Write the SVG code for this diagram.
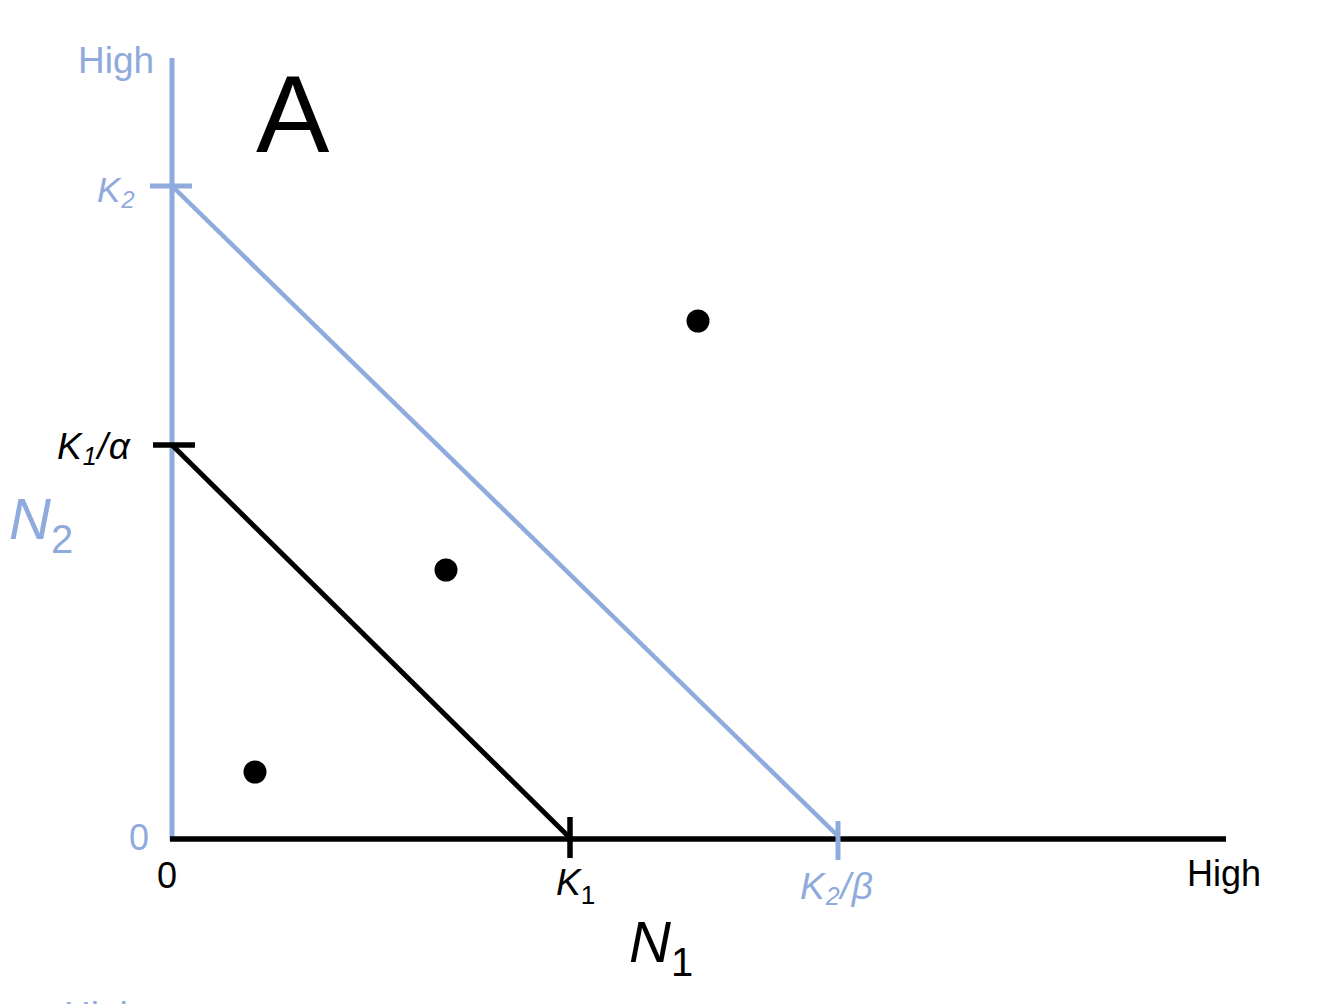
<svg xmlns="http://www.w3.org/2000/svg" width="1324" height="1004" viewBox="0 0 1324 1004">
<style>
.b{stroke:#8FAADC;fill:none}
.k{stroke:#000;fill:none}
.tb{fill:#8FAADC;font-family:"Liberation Sans",Arial,sans-serif}
.tk{fill:#000;font-family:"Liberation Sans",Arial,sans-serif}
.i{font-style:italic}
</style>
<rect width="1324" height="1004" fill="#fff"/>
<g id="axes">
<line class="b" x1="172" y1="58" x2="172" y2="841" stroke-width="5"/>
<line class="k" x1="170" y1="839" x2="1226" y2="839" stroke-width="5.5"/>
</g>
<g id="connectors">
<line class="b" x1="172" y1="186" x2="838" y2="836" stroke-width="4.5"/>
<line class="k" x1="172" y1="445" x2="568" y2="836" stroke-width="5"/>
</g>
<g id="ticks">
<line class="b" x1="150" y1="186" x2="192" y2="186" stroke-width="5"/>
<line class="b" x1="838" y1="821" x2="838" y2="860" stroke-width="5"/>
<line class="k" x1="153" y1="445" x2="195" y2="445" stroke-width="5.5"/>
<line class="k" x1="570" y1="817" x2="570" y2="858" stroke-width="5.5"/>
</g>
<g id="points">
<circle cx="698" cy="321" r="11.5"/>
<circle cx="446" cy="570" r="11.5"/>
<circle cx="255" cy="772" r="11.5"/>
</g>
<g id="labels">
<text class="tb" x="78" y="73" font-size="37">High</text>
<text class="tk" x="256" y="152" font-size="110">A</text>
<text class="tb i" x="97" y="202" font-size="35" letter-spacing="1">K<tspan font-size="24" dy="6">2</tspan></text>
<text class="tk i" x="57" y="459" font-size="37" letter-spacing="1">K<tspan font-size="25" dy="6">1</tspan><tspan dy="-6">/α</tspan></text>
<text class="tb i" x="9" y="539" font-size="58">N<tspan font-size="40" dy="14" font-style="normal">2</tspan></text>
<text class="tb" x="129" y="850" font-size="36">0</text>
<text class="tk" x="157" y="888" font-size="36">0</text>
<text class="tk i" x="556" y="895" font-size="37">K<tspan font-size="26" dy="9" font-style="normal">1</tspan></text>
<text class="tb i" x="800" y="899" font-size="37" letter-spacing="1">K<tspan font-size="25" dy="6">2</tspan><tspan dy="-6">/β</tspan></text>
<text class="tk i" x="629" y="962" font-size="58">N<tspan font-size="40" dy="14" font-style="normal">1</tspan></text>
<text class="tk" x="1187" y="886" font-size="36">High</text>
<text class="tb" x="64" y="1028" font-size="37">High</text>
</g>
</svg>
